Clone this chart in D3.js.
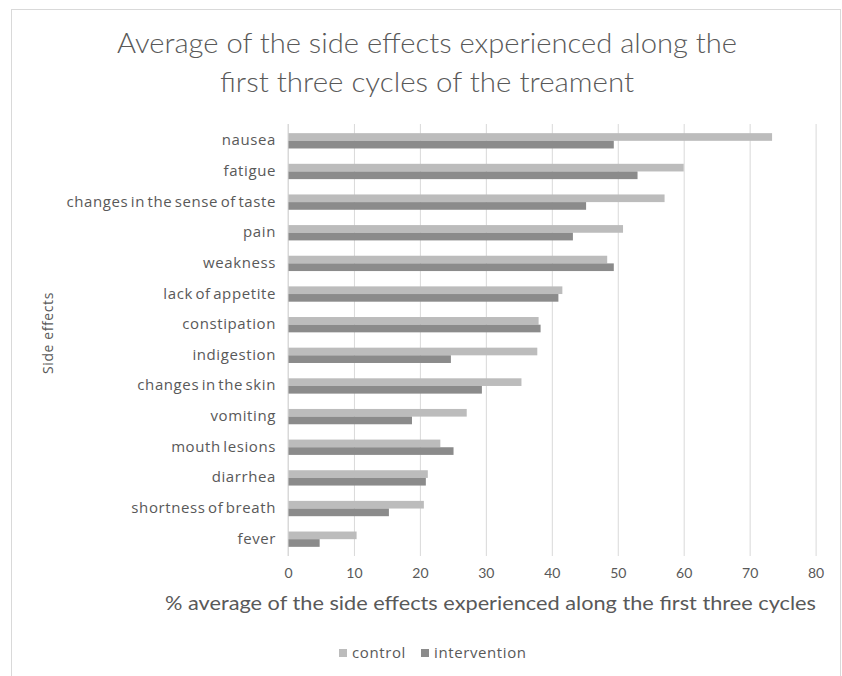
<!DOCTYPE html>
<html lang="en">
<head>
    <meta charset="UTF-8">
    <title>Side effects</title>
    <style type="text/css">
        * {
            margin: 0;
            padding: 0;
        }

        body {
            background: #fff;
        }
    </style>
</head>
<body>
<div id="chart-area"></div>
<script src="https://d3js.org/d3.v7.min.js"></script>
<script type="text/javascript">

  const W = 842
  const H = 676
  const MARGIN = {LEFT: 288, TOP: 125.5, RIGHT: 28, BOTTOM: 121.5}

  const categories = ['nausea', 'fatigue', 'changes in the sense of taste', 'pain', 'weakness',
    'lack of appetite', 'constipation', 'indigestion', 'changes in the skin', 'vomiting',
    'mouth lesions', 'diarrhea', 'shortness of breath', 'fever']
  const control = [73.4, 60.0, 57.1, 50.8, 48.4, 41.6, 38.0, 37.8, 35.4, 27.1, 23.1, 21.2, 20.6, 10.4]
  const intervention = [49.4, 53.0, 45.2, 43.2, 49.4, 41.0, 38.3, 24.7, 29.4, 18.8, 25.1, 20.9, 15.3, 4.8]
  const seriesNames = ['control', 'intervention']
  const xTicks = [0, 10, 20, 30, 40, 50, 60, 70, 80]

  const textColor = '#595959'
  const colors = d3.scaleOrdinal().domain(seriesNames).range(['#bcbcbc', '#8b8b8b'])

  const svg = d3.select('#chart-area').append('svg')
    .attr('width', W)
    .attr('height', H)

  // outer chart border
  svg.append('rect')
    .attr('x', 11.5).attr('y', 9.5)
    .attr('width', 829).attr('height', 700)
    .attr('fill', '#fff')
    .attr('stroke', '#d9d9d9')

  const x = d3.scaleLinear().domain([0, 80]).range([MARGIN.LEFT, W - MARGIN.RIGHT + 1.6])
  const y = d3.scaleBand().domain(categories).range([MARGIN.TOP, H - MARGIN.BOTTOM])
  const step = y.bandwidth()
  const sub = d3.scaleBand().domain(seriesNames).range([step * 0.25, step * 0.75])

  // gridlines
  svg.append('g').attr('class', 'grid')
    .attr('transform', `translate(0, ${H - MARGIN.BOTTOM + 1.5})`)
    .call(d3.axisBottom(x).tickValues(xTicks).tickSize(-(H - MARGIN.BOTTOM - MARGIN.TOP + 3)).tickFormat(''))
    .call(g => g.select('.domain').remove())
    .call(g => g.selectAll('.tick line').attr('stroke', '#d9d9d9'))

  // tick labels
  svg.append('g').attr('class', 'x-axis')
    .attr('transform', `translate(0, ${H - MARGIN.BOTTOM})`)
    .call(d3.axisBottom(x).tickValues(xTicks).tickSize(0).tickPadding(14))
    .call(g => g.select('.domain').remove())
    .call(g => g.selectAll('.tick text')
      .attr('fill', textColor)
      .attr('font-family', 'Lato, "Open Sans", sans-serif')
      .attr('font-size', '14px'))

  // bars
  const rows = categories.map((c, i) => ({cat: c, values: [control[i], intervention[i]]}))
  svg.append('g').selectAll('g')
    .data(rows)
    .join('g')
    .attr('transform', d => `translate(0, ${y(d.cat)})`)
    .selectAll('rect')
    .data(d => d.values.map((v, i) => ({name: seriesNames[i], value: v})))
    .join('rect')
    .attr('x', x(0))
    .attr('y', d => sub(d.name))
    .attr('width', d => x(d.value) - x(0))
    .attr('height', sub.bandwidth())
    .attr('fill', d => colors(d.name))

  // vertical axis line
  svg.append('line')
    .attr('x1', x(0)).attr('x2', x(0))
    .attr('y1', MARGIN.TOP - 1.5).attr('y2', H - MARGIN.BOTTOM + 1.5)
    .attr('stroke', '#d9d9d9')

  // category labels
  svg.append('g').attr('class', 'y-axis')
    .attr('transform', `translate(${x(0)}, 0)`)
    .call(d3.axisLeft(y).tickSize(0).tickPadding(12))
    .call(g => g.select('.domain').remove())
    .call(g => g.selectAll('.tick text')
      .attr('fill', textColor)
      .attr('font-family', '"Open Sans", sans-serif')
      .attr('font-size', '15px')
      .attr('letter-spacing', '0.6px')
      .attr('word-spacing', '-2px')
      .attr('dy', '0.3em'))

  // title
  const title = ['Average of the side effects experienced along the', 'first three cycles of the treament']
  const titleWidths = [620, 414]
  svg.append('g').selectAll('text')
    .data(title)
    .join('text')
    .attr('x', 427)
    .attr('y', (d, i) => 53 + i * 39)
    .attr('text-anchor', 'middle')
    .attr('fill', textColor)
    .attr('font-family', 'Lato, sans-serif')
    .attr('font-weight', 300)
    .attr('font-size', '27px')
    .attr('textLength', (d, i) => titleWidths[i])
    .attr('lengthAdjust', 'spacingAndGlyphs')
    .text(d => d)

  // axis titles
  svg.append('text')
    .attr('x', 490.5)
    .attr('y', 610)
    .attr('text-anchor', 'middle')
    .attr('fill', textColor)
    .attr('font-family', 'Lato, sans-serif')
    .attr('font-size', '20px')
    .attr('textLength', 651)
    .attr('lengthAdjust', 'spacingAndGlyphs')
    .text('% average of the side effects experienced along the first three cycles')

  svg.append('text')
    .attr('transform', 'translate(53, 333) rotate(-90)')
    .attr('text-anchor', 'middle')
    .attr('fill', textColor)
    .attr('font-family', '"Open Sans", sans-serif')
    .attr('font-size', '14px')
    .attr('letter-spacing', '0.6px')
    .text('Side effects')

  // legend
  const legendX = [339, 421]
  const legend = svg.append('g').selectAll('g')
    .data(seriesNames)
    .join('g')
    .attr('transform', (d, i) => `translate(${legendX[i]}, 649)`)
  legend.append('rect')
    .attr('width', 8).attr('height', 8)
    .attr('fill', d => colors(d))
  legend.append('text')
    .attr('x', 13)
    .attr('y', 9)
    .attr('fill', textColor)
    .attr('font-family', '"Open Sans", sans-serif')
    .attr('font-size', '15px')
    .attr('letter-spacing', '0.6px')
    .text(d => d)

</script>
</body>
</html>
